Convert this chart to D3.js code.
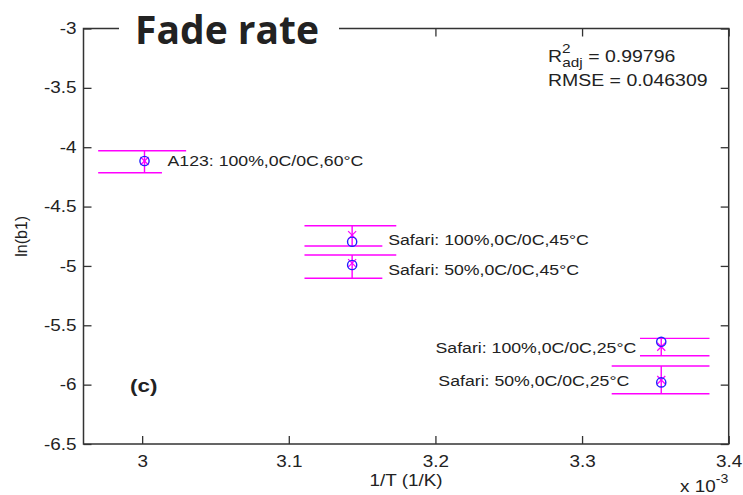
<!DOCTYPE html>
<html>
<head>
<meta charset="utf-8">
<script src="https://cdn.jsdelivr.net/npm/d3@7"></script>
<style>
  body { margin: 0; background: #fff; }
  text { font-family: "Liberation Sans", Arial, sans-serif; fill: #222; }
</style>
</head>
<body>
<svg id="chart"></svg>
<script>
// cells tested, x in 1e-3 1/K
var cells = ["A123: 100%,0C/0C,60°C", "Safari: 100%,0C/0C,45°C", "Safari: 50%,0C/0C,45°C",
             "Safari: 100%,0C/0C,25°C", "Safari: 50%,0C/0C,25°C"];
var invT = [3.0016, 3.1432, 3.1432, 3.3540, 3.3540];
var lnB1 = [-4.116, -4.796, -4.992, -5.639, -5.981];   // measured (circles)
var lnFit = [-4.116, -4.740, -4.976, -5.681, -5.961];  // model (x marks)
var errHi = [-4.030, -4.661, -4.908, -5.610, -5.843];
var errLo = [-4.215, -4.832, -5.104, -5.757, -6.077];
var capLeft = [2.970, 3.1107, 3.1107, 3.3395, 3.3202];
var capRightHi = [3.030, 3.1733, 3.1733, 3.3869, 3.3869];
var capRightLo = [3.0135, 3.1638, 3.1638, 3.3869, 3.3869];
var xTicks = [3, 3.1, 3.2, 3.3, 3.4];
var yTicks = [-6.5, -6, -5.5, -5, -4.5, -4, -3.5, -3];

var width = 743, height = 495,
    margin = {top: 28.5, right: 14.3, bottom: 51, left: 83.5},
    SX = 1.18; // the picture is a bit stretched sideways

var data = cells.map(function (c, i) {
  return {label: c, x: invT[i], y: lnB1[i], fit: lnFit[i], hi: errHi[i], lo: errLo[i],
          cl: capLeft[i], crh: capRightHi[i], crl: capRightLo[i]};
});

var svg = d3.select("#chart").attr("width", width).attr("height", height);
svg.append("rect").attr("width", width).attr("height", height).attr("fill", "#fff");

var xScale = d3.scaleLinear().domain([2.96, 3.4]).range([margin.left, width - margin.right]);
var yScale = d3.scaleLinear().domain([-6.5, -3]).range([height - margin.bottom, margin.top]);

// plain hyphen minus like matlab
var fmt = function (d) { return String(d); };

function stretch(sel) {
  sel.each(function () {
    var t = d3.select(this);
    var x = +t.attr("x") || 0, y = +t.attr("y") || 0;
    t.attr("x", null).attr("y", null)
      .attr("transform", "translate(" + x + "," + y + ") scale(" + SX + ",1)");
  });
}

// axes, ticks pointing in
var x0 = xScale.range()[0], x1 = xScale.range()[1], y0 = yScale.range()[0], y1 = yScale.range()[1];

var gx = svg.append("g").attr("transform", "translate(0," + y0 + ")")
  .call(d3.axisBottom(xScale).tickValues(xTicks).tickSize(-8).tickSizeOuter(0).tickPadding(12).tickFormat(fmt));
var gxTop = svg.append("g").attr("transform", "translate(0," + y1 + ")")
  .call(d3.axisTop(xScale).tickValues(xTicks).tickSize(-8).tickSizeOuter(0).tickFormat(""));
var gy = svg.append("g").attr("transform", "translate(" + x0 + ",0)")
  .call(d3.axisLeft(yScale).tickValues(yTicks).tickSize(-8).tickSizeOuter(0).tickPadding(7).tickFormat(fmt));
var gyR = svg.append("g").attr("transform", "translate(" + x1 + ",0)")
  .call(d3.axisRight(yScale).tickValues(yTicks).tickSize(-8).tickSizeOuter(0).tickFormat(""));

[gx, gxTop, gy, gyR].forEach(function (g) {
  g.select(".domain").remove();
  g.selectAll("line").attr("stroke", "#333").attr("stroke-width", 1.3);
  g.selectAll("text").attr("font-size", 16).attr("fill", "#222")
    .style("font-family", '"Liberation Sans", Arial, sans-serif');
});
gx.selectAll(".tick text").each(function () {
  var t = d3.select(this);
  t.attr("transform", "translate(0," + t.attr("y") + ") scale(" + SX + ",1)").attr("y", null);
});
gy.selectAll(".tick text").each(function () {
  var t = d3.select(this);
  t.attr("transform", "translate(" + t.attr("x") + ",0) scale(" + SX + ",1)").attr("x", null);
});

svg.append("rect")
  .attr("x", x0).attr("y", y1).attr("width", x1 - x0).attr("height", y0 - y1)
  .attr("fill", "none").attr("stroke", "#333").attr("stroke-width", 1.5);

// error bars
var eb = svg.append("g").attr("stroke", "#ff00ff").attr("stroke-width", 1.4).attr("fill", "none");
data.forEach(function (d) {
  eb.append("line").attr("x1", xScale(d.x)).attr("x2", xScale(d.x)).attr("y1", yScale(d.hi)).attr("y2", yScale(d.lo));
  eb.append("line").attr("x1", xScale(d.cl)).attr("x2", xScale(d.crh)).attr("y1", yScale(d.hi)).attr("y2", yScale(d.hi));
  eb.append("line").attr("x1", xScale(d.cl)).attr("x2", xScale(d.crl)).attr("y1", yScale(d.lo)).attr("y2", yScale(d.lo));
});

// model x marks
var xm = svg.append("g").attr("stroke", "#ff00ff").attr("stroke-width", 1.2);
data.forEach(function (d) {
  var cx = xScale(d.x), cy = yScale(d.fit), r = 4;
  xm.append("line").attr("x1", cx - r).attr("x2", cx + r).attr("y1", cy - r).attr("y2", cy + r);
  xm.append("line").attr("x1", cx - r).attr("x2", cx + r).attr("y1", cy + r).attr("y2", cy - r);
});

// measured circles
svg.append("g").selectAll("circle").data(data).enter().append("circle")
  .attr("cx", function (d) { return xScale(d.x); })
  .attr("cy", function (d) { return yScale(d.y); })
  .attr("r", 4.6)
  .attr("fill", "none").attr("stroke", "#2020ff").attr("stroke-width", 1.4);

// point labels: right of the point, or left for the 25C pair
var labelDx = [23, 36, 36, -25, -32], labelDy = [0, -2, 5, 6, -2];
svg.append("g").selectAll("text").data(data).enter().append("text")
  .attr("x", function (d, i) { return xScale(d.x) + labelDx[i]; })
  .attr("y", function (d, i) { return yScale(d.y) + labelDy[i]; })
  .attr("dy", "0.35em")
  .attr("font-size", 15)
  .attr("text-anchor", function (d, i) { return labelDx[i] < 0 ? "end" : "start"; })
  .text(function (d) { return d.label; })
  .call(stretch);

// fit stats
var st = svg.append("g");
var r2 = st.append("text").attr("x", 548).attr("y", 62).attr("font-size", 16.5);
r2.append("tspan").text("R");
r2.append("tspan").attr("font-size", 13).attr("dy", -9).text("2");
r2.append("tspan").attr("font-size", 13).attr("dx", -7).attr("dy", 14).text("adj");
r2.append("tspan").attr("dy", -5).text(" = 0.99796");
st.append("text").attr("x", 548).attr("y", 86).attr("font-size", 16.5).text("RMSE = 0.046309");
st.selectAll("text").call(stretch);

// panel tag
svg.append("text").attr("x", 130).attr("y", 392).attr("font-size", 19).attr("font-weight", "bold")
  .text("(c)").call(stretch);

// axis titles
svg.append("text").attr("x", (x0 + x1) / 2).attr("y", 486).attr("font-size", 16)
  .attr("text-anchor", "middle").text("1/T (1/K)").call(stretch);
var ex = svg.append("text").attr("x", 680).attr("y", 492).attr("font-size", 16);
ex.append("tspan").text("x 10");
ex.append("tspan").attr("font-size", 12).attr("dy", -9).text("-3");
ex.call(stretch);

svg.append("text")
  .attr("transform", "translate(27," + (y0 + y1) / 2 + ") rotate(-90)")
  .attr("text-anchor", "middle").attr("font-size", 16).text("ln(b1)");

// title sitting over the top border
svg.append("rect").attr("x", 119).attr("y", 0).attr("width", 220).attr("height", 52).attr("fill", "#fff");
svg.append("text").attr("x", 135).attr("y", 44).attr("font-size", 39).attr("font-weight", "bold")
  .style("font-family", '"Open Sans", sans-serif').attr("fill", "#000").text("Fade rate");
</script>
</body>
</html>
